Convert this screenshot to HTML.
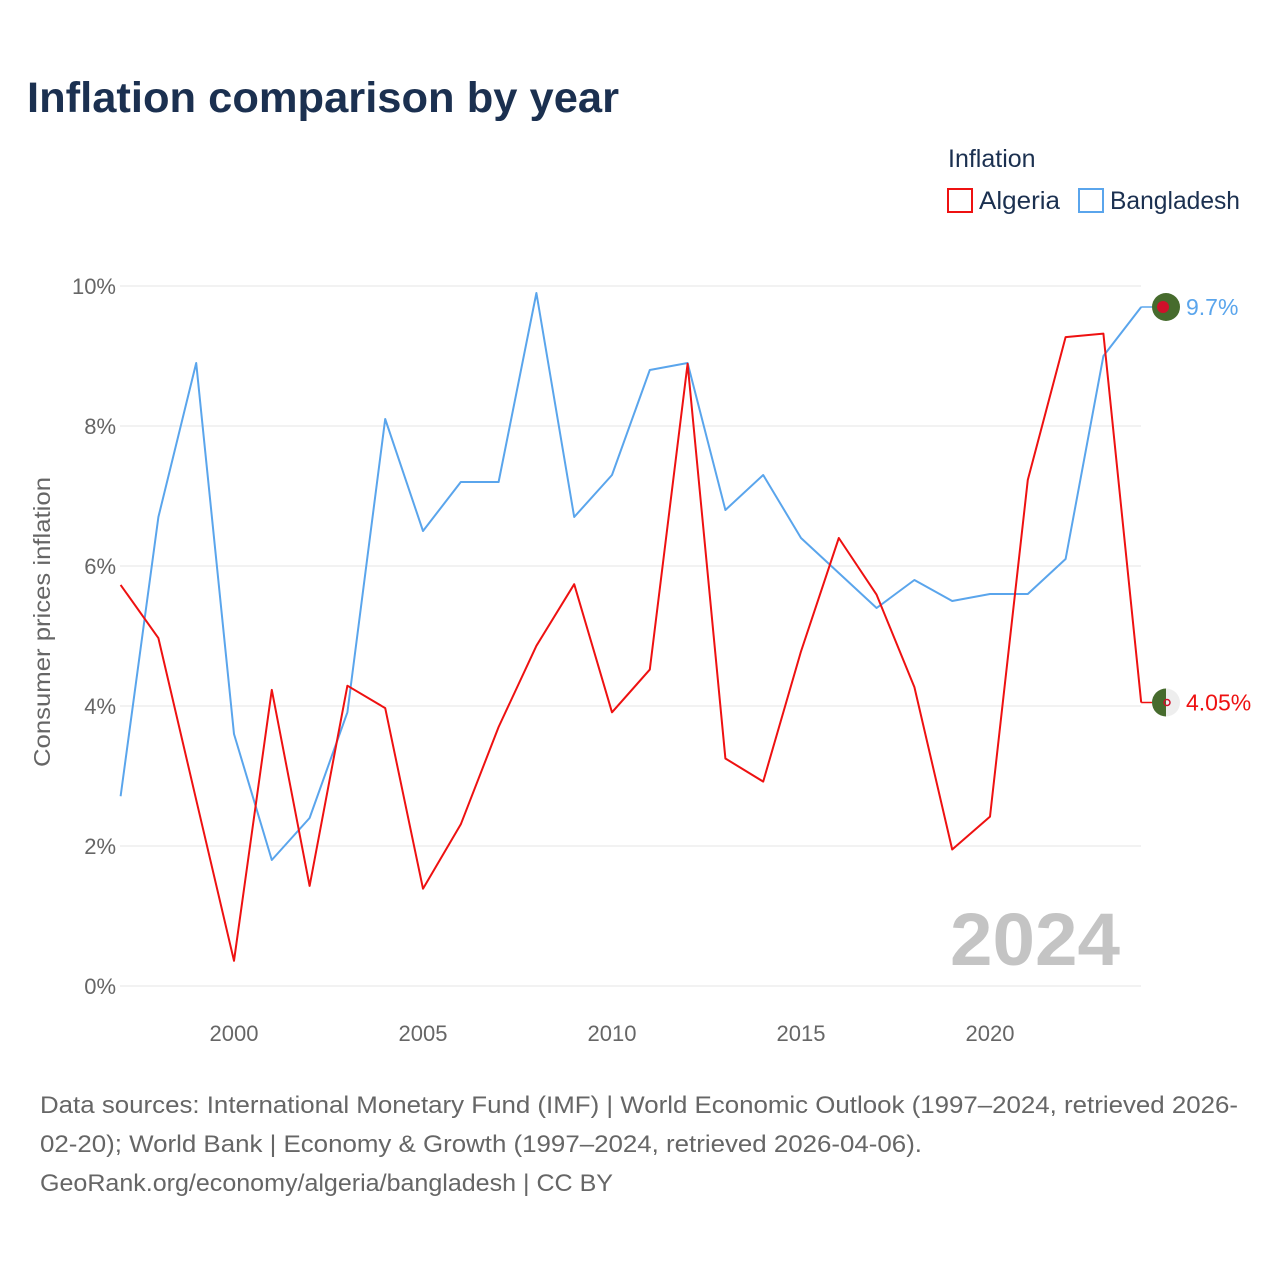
<!DOCTYPE html>
<html><head><meta charset="utf-8"><style>
body{margin:0;background:#fff;font-family:"Liberation Sans",sans-serif}
svg{display:block}
</style></head><body>
<svg width="1280" height="1280" viewBox="0 0 1280 1280">
<text x="27" y="112" font-size="43" font-weight="bold" fill="#1b3050" textLength="592" lengthAdjust="spacingAndGlyphs">Inflation comparison by year</text>
<g>
<text x="948" y="167" font-size="25" fill="#1b3050">Inflation</text>
<g><rect x="948" y="189" width="24" height="23" fill="none" stroke="#ee1111" stroke-width="2"/><text x="979" y="209" font-size="25" fill="#1b3050" textLength="81" lengthAdjust="spacingAndGlyphs">Algeria</text></g>
<g><rect x="1079" y="189" width="24" height="23" fill="none" stroke="#5aa5ec" stroke-width="2"/><text x="1110" y="209" font-size="25" fill="#1b3050" textLength="130" lengthAdjust="spacingAndGlyphs">Bangladesh</text></g>
</g>
<g id="grid"></g>
<g id="yt"></g>
<g id="xt"></g>
<text transform="translate(50,622) rotate(-90)" text-anchor="middle" font-size="23" fill="#666" textLength="290" lengthAdjust="spacingAndGlyphs">Consumer prices inflation</text>
<text x="1120" y="965" text-anchor="end" font-size="74" font-weight="bold" fill="#c4c4c4" textLength="170" lengthAdjust="spacingAndGlyphs">2024</text>
<g id="series"></g>
<g font-size="24" fill="#666">
<text x="40" y="1113" textLength="1198" lengthAdjust="spacingAndGlyphs">Data sources: International Monetary Fund (IMF) | World Economic Outlook (1997–2024, retrieved 2026-</text>
<text x="40" y="1152" textLength="882" lengthAdjust="spacingAndGlyphs">02-20); World Bank | Economy &amp; Growth (1997–2024, retrieved 2026-04-06).</text>
<text x="40" y="1191" textLength="573" lengthAdjust="spacingAndGlyphs">GeoRank.org/economy/algeria/bangladesh | CC BY</text>
</g>
</svg>
<script>
const years=[1997,1998,1999,2000,2001,2002,2003,2004,2005,2006,2007,2008,2009,2010,2011,2012,2013,2014,2015,2016,2017,2018,2019,2020,2021,2022,2023,2024];
const algeria=[5.73,4.97,2.66,0.36,4.23,1.43,4.29,3.97,1.39,2.31,3.7,4.86,5.74,3.91,4.52,8.89,3.25,2.92,4.78,6.4,5.59,4.27,1.95,2.42,7.23,9.27,9.32,4.05];
const bangladesh=[2.71,6.7,8.9,3.6,1.8,2.4,3.91,8.1,6.5,7.2,7.2,9.9,6.7,7.3,8.8,8.9,6.8,7.3,6.4,5.9,5.4,5.8,5.5,5.6,5.6,6.1,9.0,9.7];
const yTicks=[0,2,4,6,8,10];
const xTicks=[2000,2005,2010,2015,2020];
const NS="http://www.w3.org/2000/svg";
const x=v=>120.6+(v-1997)*37.8;
const y=v=>986-v*70;
function mk(t,a,p){const e=document.createElementNS(NS,t);for(const k in a)e.setAttribute(k,a[k]);p.appendChild(e);return e;}
const grid=document.getElementById('grid'),yt=document.getElementById('yt'),xt=document.getElementById('xt'),ser=document.getElementById('series');
yTicks.forEach(v=>{
 const l=mk('line',{x1:120,x2:1141,y1:y(v),y2:y(v),stroke:'#e6e6e6','stroke-width':1},grid);
 
 
 const t=mk('text',{x:116,y:y(v)+8,'text-anchor':'end','font-size':22,fill:'#666'},yt);
 t.textContent=v+'%';
 
 
});
xTicks.forEach(v=>{
 const t=mk('text',{x:x(v),y:1041,'text-anchor':'middle','font-size':22,fill:'#666'},xt);
 t.textContent=v;
 
 
});
function series(vals,color,name,label,flag){
 const p=mk('polyline',{points:vals.map((v,i)=>x(years[i])+','+y(v)).join(' '),fill:'none',stroke:color,'stroke-width':2,'stroke-linejoin':'round'},ser);
 
 
 const last=vals[vals.length-1],ly=y(last),lx=x(years[years.length-1]);
 mk('line',{x1:lx,x2:lx+11,y1:ly,y2:ly,stroke:color,'stroke-width':1.5},ser);
 const g=mk('g',{},ser);
 
 
 if(flag==='bd'){mk('circle',{cx:1166,cy:ly,r:14,fill:'#466b2d'},g);mk('circle',{cx:1163,cy:ly,r:6,fill:'#d0102a'},g);}
 else{mk('circle',{cx:1166,cy:ly,r:14,fill:'#eee'},g);mk('path',{d:`M1166 ${ly-14} A14 14 0 0 0 1166 ${ly+14} Z`,fill:'#466b2d'},g);mk('circle',{cx:1167,cy:ly,r:3,fill:'none',stroke:'#d0102a','stroke-width':1.5},g);}
 const t=mk('text',{x:1186,y:ly+8,'font-size':23,fill:color},ser);
 t.textContent=label;
 
 
}
series(bangladesh,'#5aa5ec','bangladesh','9.7%','bd');
series(algeria,'#ee1111','algeria','4.05%','dz');
</script>
</body></html>
